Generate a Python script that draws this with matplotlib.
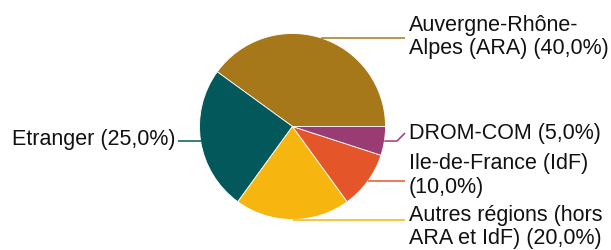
import numpy as np
import matplotlib
matplotlib.use("Agg")
import matplotlib.pyplot as plt

# data
labels = ["Auvergne-Rhône-\nAlpes (ARA) (40,0%)",
          "Etranger (25,0%)",
          "Autres régions (hors\nARA et IdF) (20,0%)",
          "Ile-de-France (IdF)\n(10,0%)",
          "DROM-COM (5,0%)"]
values = [40.0, 25.0, 20.0, 10.0, 5.0]
colors = ["#A67819", "#03585C", "#F7B50F", "#E4552A", "#9A3B74"]

# layout (pixels, y from top)
W, H = 611, 250
CX, CY, R = 292.5, 126.5, 93
# text anchor (x, y, ha), leader end y
text_pos = [(409, 37, "left"), (176, 140, "right"), (409, 227, "left"),
            (409, 175.5, "left"), (409, 133, "left")]
line_end_y = [None, None, 220, 183, 133]

plt.rcParams['font.family'] = ['Liberation Sans', 'DejaVu Sans']

fig = plt.figure(figsize=(W / 100, H / 100), dpi=100)
ax = fig.add_axes([0, 0, 1, 1])
ax.set_xlim(0, W)
ax.set_ylim(0, H)
ax.set_aspect("equal")
ax.axis("off")

def Y(py):
    return H - py

wedges, _ = ax.pie(values, colors=colors, startangle=0, counterclock=True,
                   center=(CX, Y(CY)), radius=R, frame=True,
                   wedgeprops=dict(edgecolor="white", linewidth=0.6))
ax.set_xlim(0, W)
ax.set_ylim(0, H)
ax.axis("off")

for w, lab, col, (tx, ty, ha), ly in zip(wedges, labels, colors, text_pos, line_end_y):
    ang = np.deg2rad((w.theta1 + w.theta2) / 2)
    px = CX + R * np.cos(ang)
    py = Y(CY) + R * np.sin(ang)
    if ha == "left":
        ex = tx - 4
    else:
        ex = tx + 2
    ey = py if ly is None else Y(ly)
    if abs(ey - py) > 2:
        xs = [px, ex - 8, ex]
        ys = [py, py, ey]
    else:
        xs = [px, ex]
        ys = [py, py]
    ax.plot(xs, ys, color=col, lw=1.1, solid_capstyle="butt")
    ax.text(tx, Y(ty), lab, ha=ha, va="center", fontsize=15.5,
            linespacing=1.15, color="#111111")

fig.savefig("out.png", dpi=100)
